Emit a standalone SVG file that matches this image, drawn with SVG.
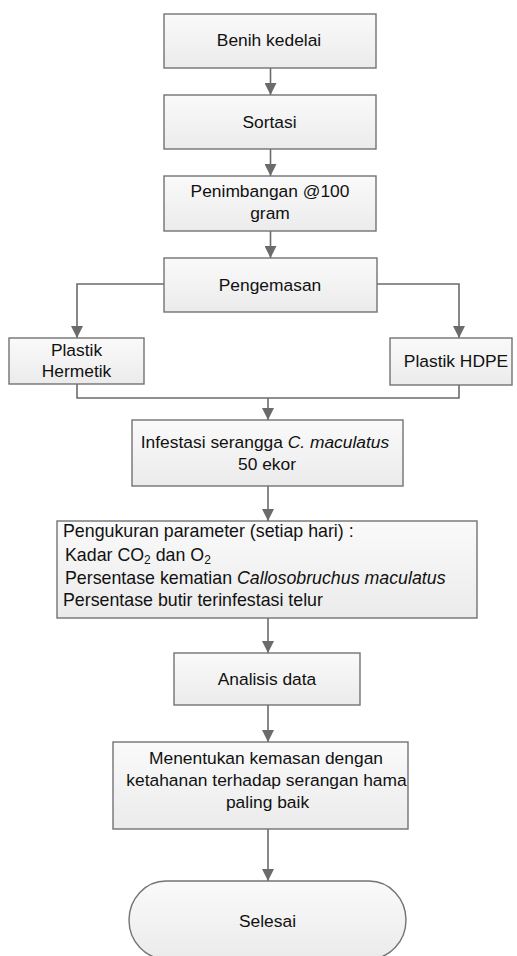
<svg xmlns="http://www.w3.org/2000/svg" width="517" height="956" viewBox="0 0 517 956">
<defs>
<linearGradient id="g" x1="0" y1="0" x2="0" y2="1">
<stop offset="0" stop-color="#fafafa"/>
<stop offset="1" stop-color="#ebebeb"/>
</linearGradient>
<marker id="ah" markerUnits="userSpaceOnUse" markerWidth="12" markerHeight="12" viewBox="0 0 10 10" refX="10" refY="5" orient="auto">
<path d="M0,0 L10,5 L0,10 Z" fill="#6b6b6b"/>
</marker>
<style>
.box{fill:url(#g);stroke:#737373;stroke-width:1.4}
.t{font-family:"Liberation Sans",Arial,sans-serif;font-size:17.4px;fill:#111}
.p{font-size:17.8px}
.c{text-anchor:middle}
.i{font-style:italic}
.ln{fill:none;stroke:#6b6b6b;stroke-width:1.6}
</style>
</defs>
<rect width="517" height="956" fill="#ffffff"/>
<g id="connectors">
<path class="ln" d="M270.5,68 V95" marker-end="url(#ah)"/>
<path class="ln" d="M270.5,149 V176" marker-end="url(#ah)"/>
<path class="ln" d="M270.5,231 V258" marker-end="url(#ah)"/>
<path class="ln" d="M164,284 H77 V338" marker-end="url(#ah)"/>
<path class="ln" d="M377,284 H459 V338" marker-end="url(#ah)"/>
<path class="ln" d="M77,384 V398 H459 V385"/>
<path class="ln" d="M268,398 V420" marker-end="url(#ah)"/>
<path class="ln" d="M268,486 V521" marker-end="url(#ah)"/>
<path class="ln" d="M268,618 V653" marker-end="url(#ah)"/>
<path class="ln" d="M268,705 V742" marker-end="url(#ah)"/>
<path class="ln" d="M268,829 V881" marker-end="url(#ah)"/>
</g>
<g id="benih">
<rect class="box" x="164" y="14" width="212" height="54"/>
<text class="t c" x="269" y="46">Benih kedelai</text>
</g>
<g id="sortasi">
<rect class="box" x="164" y="95" width="212" height="54"/>
<text class="t c" x="269.5" y="128">Sortasi</text>
</g>
<g id="penimbangan">
<rect class="box" x="164" y="176" width="212" height="55"/>
<text class="t c" x="270" y="197">Penimbangan @100</text>
<text class="t c" x="270" y="219">gram</text>
</g>
<g id="pengemasan">
<rect class="box" x="164" y="258" width="213" height="54"/>
<text class="t c" x="270" y="291">Pengemasan</text>
</g>
<g id="hermetik">
<rect class="box" x="9" y="338" width="135" height="46"/>
<text class="t c" x="76.5" y="356">Plastik</text>
<text class="t c" x="76.5" y="377">Hermetik</text>
</g>
<g id="hdpe">
<rect class="box" x="390" y="338" width="122" height="47"/>
<text class="t c" x="456" y="367">Plastik HDPE</text>
</g>
<g id="infestasi">
<rect class="box" x="132" y="420" width="271" height="66"/>
<text class="t c" x="265" y="448">Infestasi serangga <tspan class="i">C. maculatus</tspan></text>
<text class="t c" x="267" y="470">50 ekor</text>
</g>
<g id="pengukuran">
<rect class="box" x="57" y="521" width="420" height="97"/>
<text class="t p" x="63" y="537">Pengukuran parameter (setiap hari) :</text>
<text class="t p" x="65" y="560.5">Kadar CO<tspan font-size="12" dy="3">2</tspan><tspan dy="-3"> dan O</tspan><tspan font-size="12" dy="3">2</tspan></text>
<text class="t p" x="65" y="583.5">Persentase kematian <tspan class="i">Callosobruchus maculatus</tspan></text>
<text class="t p" x="63" y="606">Persentase butir terinfestasi telur</text>
</g>
<g id="analisis">
<rect class="box" x="174" y="653" width="186" height="52"/>
<text class="t c" x="267" y="685">Analisis data</text>
</g>
<g id="menentukan">
<rect class="box" x="113" y="742" width="295" height="87"/>
<text class="t c" x="266" y="764">Menentukan kemasan dengan</text>
<text class="t c" x="266.5" y="786">ketahanan terhadap serangan hama</text>
<text class="t c" x="267.5" y="808">paling baik</text>
</g>
<g id="selesai">
<path class="box" d="M166,881 H369 A37,39 0 0 1 369,959 H166 A37,39 0 0 1 166,881 Z"/>
<text class="t c" x="267.5" y="927">Selesai</text>
</g>
</svg>
